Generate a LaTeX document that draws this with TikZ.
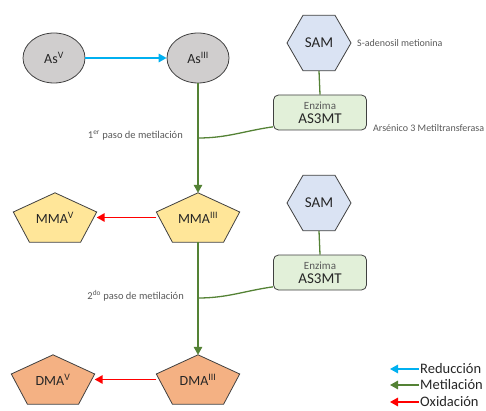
\documentclass[tikz,border=0pt]{standalone}
\usepackage{fontspec}
\setmainfont{Carlito}
\usetikzlibrary{shapes.geometric,arrows.meta,calc,backgrounds}
\definecolor{cblue}{HTML}{00B0F0}
\definecolor{cgreen}{HTML}{548235}
\definecolor{cred}{HTML}{FF0000}
\definecolor{cgray}{HTML}{D0CECE}
\definecolor{csam}{HTML}{DAE3F3}
\definecolor{cenz}{HTML}{E2F0D9}
\definecolor{cmma}{HTML}{FFE699}
\definecolor{cdma}{HTML}{F4B183}
\definecolor{cline}{HTML}{404040}
\definecolor{ctext}{HTML}{262626}
\definecolor{csmall}{HTML}{595959}
\newcommand{\pentshape}[2]{%
  \path[draw=cline, line width=0.8pt, fill=#2] (#1.north) -- ($(#1.east)+(0,-5.5)$) -- ($(#1.south)+(25.6,0)$) -- ($(#1.south)+(-25.6,0)$) -- ($(#1.west)+(0,-5.5)$) -- cycle;}
\tikzset{
  ell/.style={ellipse, draw=cline, line width=0.8pt, fill=cgray, minimum width=62pt, minimum height=50pt, inner sep=0pt, text=ctext, font=\fontsize{14}{14}\selectfont},
  hexa/.style={regular polygon, regular polygon sides=6, draw=cline, line width=0.8pt, fill=csam, minimum size=64pt, inner sep=0pt, text=ctext, font=\fontsize{15}{15}\selectfont},
  enz/.style={rectangle, rounded corners=5pt, draw=cline, line width=0.8pt, fill=cenz, minimum width=93pt, minimum height=35pt, inner sep=0pt, align=center, text=ctext, font=\fontsize{15}{15}\selectfont},
  pent/.style={minimum width=83pt, minimum height=49pt, inner sep=0pt, text=ctext, font=\fontsize{14}{14}\selectfont},
  small/.style={text=csmall, font=\fontsize{10}{10}\selectfont, inner sep=0pt},
  stepl/.style={text=csmall, font=\fontsize{10.5}{10.5}\selectfont, inner sep=0pt},
  legl/.style={text=ctext, font=\fontsize{14.5}{14.5}\selectfont, inner sep=1pt},
  tip/.style={-{Triangle[length=8pt,width=8.5pt]}},
  redarr/.style={draw=cred, line width=1.6pt, tip},
  bluearr/.style={draw=cblue, line width=1.6pt, tip},
  greenarr/.style={draw=cgreen, line width=1.6pt, tip},
  greenline/.style={draw=cgreen, line width=1.3pt},
}
\newcommand{\enzlabel}{{\fontsize{11}{11}\selectfont\color{csmall}Enzima}\\[-1pt]AS3MT}
\begin{document}
\begin{tikzpicture}[x=1pt,y=-1pt]
\useasboundingbox (0,0) rectangle (486,411);
% nodes
\node[ell] (asv) at (54,58) {As\textsuperscript{V}};
\node[ell] (asiii) at (198,58) {As\textsuperscript{III}};
\node[hexa] (sam1) at (319,43) {SAM};
\node[enz] (enz1) at (320,112.5) {\enzlabel};
\node[pent] (mmav) at (55,217.5) {MMA\textsuperscript{V}};
\node[pent] (mmaiii) at (198,217.5) {MMA\textsuperscript{III}};
\node[hexa] (sam2) at (319,203) {SAM};
\node[enz] (enz2) at (320,272.5) {\enzlabel};
\node[pent] (dmav) at (53,379.5) {DMA\textsuperscript{V}};
\node[pent] (dmaiii) at (198,379.5) {DMA\textsuperscript{III}};
\begin{scope}[on background layer]
\pentshape{mmav}{cmma}
\pentshape{mmaiii}{cmma}
\pentshape{dmav}{cdma}
\pentshape{dmaiii}{cdma}
\end{scope}
% texts
\node[small, anchor=west] (samt) at (357,43) {S-adenosil metionina};
\node[small, anchor=west] (ast) at (373,128) {Arsénico 3 Metiltransferasa};
\coordinate (j1) at (198,138);
\coordinate (j2) at (198,298);
\node[stepl, anchor=east] (st1) at (183,136) {1\textsuperscript{er} paso de metilación};
\node[stepl, anchor=east] (st2) at (184,296) {2\textsuperscript{do} paso de metilación};
% connectors
\draw[bluearr] (asv.east) -- (asiii.west);
\draw[greenarr] (asiii.south) -- (mmaiii.north);
\draw[greenarr] (mmaiii.south) -- (dmaiii.north);
\draw[redarr] (mmaiii.west) -- (mmav.east);
\draw[redarr] (dmaiii.west) -- (dmav.east);
\draw[greenline] (sam1.south) -- (enz1.north);
\draw[greenline] (sam2.south) -- (enz2.north);
\draw[greenline] (j1) to[out=0, in=188] ($(enz1.west)!0.8!(enz1.south west)$);
\draw[greenline] (j2) to[out=0, in=188] ($(enz2.west)!0.8!(enz2.south west)$);
% legend
\node[legl, anchor=west] (lr) at (419,369) {Reducción};
\node[legl, anchor=west] (lm) at (419,385) {Metilación};
\node[legl, anchor=west] (lo) at (419,402) {Oxidación};
\coordinate (lre) at (390,369);
\coordinate (lme) at (390,385);
\coordinate (loe) at (390,402);
\draw[bluearr] (lr.west) -- (lre);
\draw[greenarr] (lm.west) -- (lme);
\draw[redarr] (lo.west) -- (loe);
\end{tikzpicture}
\end{document}
